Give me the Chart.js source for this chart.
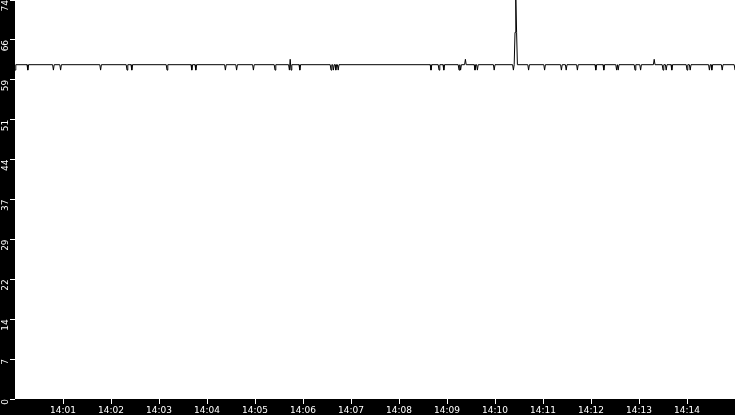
<!DOCTYPE html>
<html>
<head>
<meta charset="utf-8">
<script src="https://cdn.jsdelivr.net/npm/chart.js@4/dist/chart.umd.min.js"></script>
<style>
  html, body { margin: 0; padding: 0; background: #000; }
  canvas { display: block; }
</style>
</head>
<body>
<canvas id="rateChart" width="735" height="415"></canvas>
<script>
// Seconds after 14:00:00 and the value read at each vertex of the line
const seconds = [
    0, 1,
    15, 16, 17,
    47, 48, 49,
    56, 57, 58,
    106, 107, 108,
    139, 140, 141,
    145, 146, 147,
    189, 190, 191,
    220, 221, 222,
    225, 226, 227,
    262, 263, 264,
    276, 277, 278,
    297, 298, 299,
    324, 325, 326,
    342, 343, 344, 345, 346,
    355, 356, 357,
    394, 395, 396, 397, 398, 399, 400, 401, 402, 403, 404, 405,
    519, 520, 521,
    529, 530, 531,
    535, 536, 537,
    554, 555, 556, 557, 558,
    562, 563, 564,
    574, 575, 576,
    577, 578, 579,
    598, 599, 600,
    622, 623, 624, 625, 626, 627, 628,
    641, 642, 643,
    661, 662, 663,
    682, 683, 684,
    688, 689, 690,
    702, 703, 704,
    725, 726, 727,
    735, 736, 737,
    751, 752, 753, 754, 755,
    774, 775, 776,
    781, 782, 783,
    798, 799, 800,
    809, 810, 811,
    813, 814, 815,
    820, 821, 822,
    839, 840, 841,
    843, 844, 845,
    867, 868, 869,
    870, 871, 872,
    883, 884, 885,
    899, 900
];

const values = [
    61, 62,
    62, 61, 62,
    62, 61, 62,
    62, 61, 62,
    62, 61, 62,
    62, 61, 62,
    62, 61, 62,
    62, 61, 62,
    62, 61, 62,
    62, 61, 62,
    62, 61, 62,
    62, 61, 62,
    62, 61, 62,
    62, 61, 62,
    62, 61, 63, 61, 62,
    62, 61, 62,
    62, 61, 62, 62, 61, 62, 62, 61, 62, 62, 61, 62,
    62, 61, 62,
    62, 61, 62,
    62, 61, 62,
    62, 61, 62, 61, 62,
    62, 63, 62,
    62, 61, 62,
    62, 61, 62,
    62, 61, 62,
    62, 61, 62, 68, 74, 68, 62,
    62, 61, 62,
    62, 61, 62,
    62, 61, 62,
    62, 61, 62,
    62, 61, 62,
    62, 61, 62,
    62, 61, 62,
    62, 61, 62, 61, 62,
    62, 61, 62,
    62, 61, 62,
    62, 63, 62,
    62, 61, 62,
    62, 61, 62,
    62, 61, 62,
    62, 61, 62,
    62, 61, 62,
    62, 61, 62,
    62, 61, 62,
    62, 61, 62,
    62, 61
];

// Axis ticks
const xTickSeconds = [60, 120, 180, 240, 300, 360, 420, 480, 540, 600, 660, 720, 780, 840];
const xTickLabels = ['14:01', '14:02', '14:03', '14:04', '14:05', '14:06', '14:07',
                     '14:08', '14:09', '14:10', '14:11', '14:12', '14:13', '14:14'];
const yTickValues = [0, 7.4, 14.8, 22.2, 29.6, 37, 44.4, 51.8, 59.2, 66.6, 74];
const yTickLabels = ['0', '7', '14', '22', '29', '37', '44', '51', '59', '66', '74'];

// Black frame, white plot area
const backdrop = {
    id: 'backdrop',
    beforeDraw(chart) {
        const { ctx, chartArea } = chart;
        ctx.save();
        ctx.fillStyle = '#000';
        ctx.fillRect(0, 0, chart.width, chart.height);
        ctx.fillStyle = '#fff';
        ctx.fillRect(chartArea.left, chartArea.top,
                     chartArea.right - chartArea.left, chartArea.bottom - chartArea.top);
        ctx.restore();
    }
};

const points = seconds.map((s, i) => ({ x: s, y: values[i] }));

new Chart(document.getElementById('rateChart').getContext('2d'), {
    type: 'line',
    data: {
        datasets: [{
            data: points,
            borderColor: '#000',
            borderWidth: 1,
            pointRadius: 0,
            tension: 0,
            fill: false
        }]
    },
    options: {
        responsive: false,
        animation: false,
        events: [],
        layout: { padding: 0, autoPadding: false },
        plugins: {
            legend: { display: false },
            tooltip: { enabled: false }
        },
        scales: {
            x: {
                type: 'linear',
                min: 0,
                max: 900,
                afterBuildTicks(scale) {
                    scale.ticks = xTickSeconds.map(v => ({ value: v }));
                },
                afterFit(scale) {
                    scale.height = 16;
                    scale.paddingLeft = 0;
                    scale.paddingRight = 0;
                },
                grid: {
                    drawOnChartArea: false,
                    drawTicks: true,
                    tickLength: 5,
                    color: '#fff'
                },
                border: { display: false },
                ticks: {
                    color: '#fff',
                    padding: 1,
                    maxRotation: 0,
                    autoSkip: false,
                    font: { family: 'DejaVu Sans', size: 9 },
                    callback: (value, index) => xTickLabels[index]
                }
            },
            y: {
                type: 'linear',
                min: 0,
                max: 74,
                afterBuildTicks(scale) {
                    scale.ticks = yTickValues.map(v => ({ value: v }));
                },
                afterFit(scale) {
                    scale.width = 15;
                    scale.paddingTop = 0;
                    scale.paddingBottom = 0;
                },
                grid: {
                    drawOnChartArea: false,
                    drawTicks: true,
                    tickLength: 5,
                    color: '#fff'
                },
                border: { display: false },
                ticks: {
                    color: '#fff',
                    padding: 4,
                    minRotation: 90,
                    maxRotation: 90,
                    autoSkip: false,
                    font: { family: 'DejaVu Sans', size: 9 },
                    callback: (value, index) => yTickLabels[index]
                }
            }
        }
    },
    plugins: [backdrop]
});
</script>
</body>
</html>
